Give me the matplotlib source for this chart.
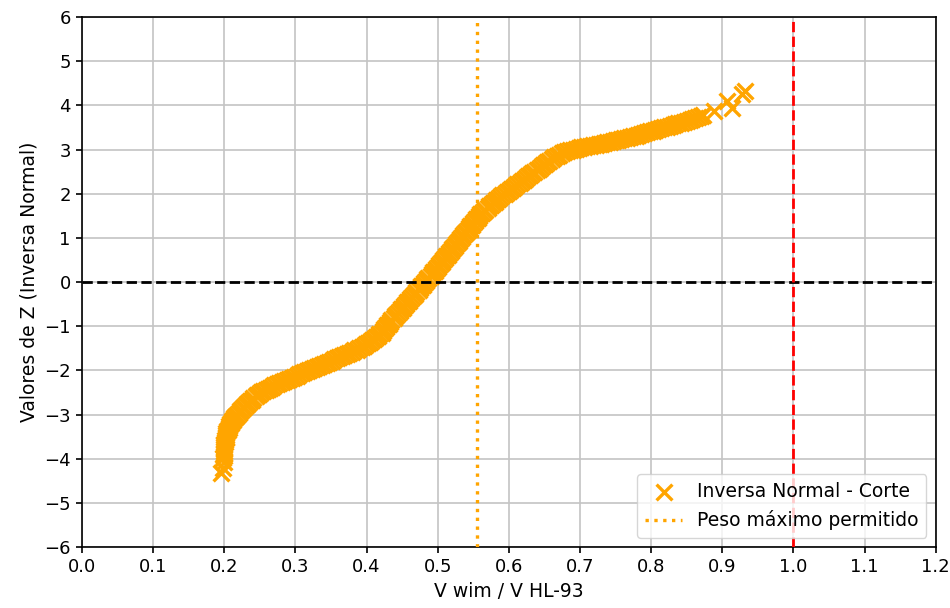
import matplotlib
matplotlib.use('Agg')
import matplotlib.pyplot as plt

# relacion V wim / V HL-93 (eje x) y valor Z de la inversa normal (eje y)
relacion = [
    # cola inferior
    0.196, 0.198, 0.199,
    # tramo casi vertical
    0.198, 0.199, 0.199, 0.199, 0.199, 0.200, 0.200, 0.200, 0.200, 0.201,
    0.201, 0.202, 0.202, 0.203, 0.203, 0.204, 0.205, 0.206, 0.207, 0.208,
    0.209, 0.211, 0.212, 0.214, 0.215, 0.217, 0.218,
    # codo inferior
    0.220, 0.222, 0.224, 0.226, 0.228, 0.230, 0.232, 0.234, 0.236, 0.239,
    0.241, 0.244, 0.246, 0.249, 0.252, 0.255, 0.258, 0.261, 0.264, 0.267,
    0.270, 0.274, 0.277, 0.281, 0.284, 0.288, 0.291, 0.295, 0.298, 0.302,
    0.305, 0.309, 0.312, 0.316, 0.319, 0.323, 0.326, 0.330, 0.333, 0.337,
    0.340, 0.344, 0.347, 0.351, 0.354, 0.358, 0.361, 0.365, 0.368, 0.372,
    0.375, 0.379, 0.382, 0.386, 0.389, 0.393, 0.396, 0.399, 0.402, 0.405,
    0.408, 0.411, 0.413, 0.416, 0.418, 0.421, 0.423,
    # tramo central
    0.425, 0.427, 0.429, 0.431, 0.433, 0.435, 0.438, 0.440, 0.442, 0.444,
    0.447, 0.449, 0.451, 0.453, 0.455, 0.457, 0.459, 0.461, 0.464, 0.466,
    0.468, 0.470, 0.473, 0.475, 0.477, 0.479, 0.481, 0.483, 0.485, 0.487,
    0.490, 0.492, 0.494, 0.496, 0.498, 0.500, 0.502, 0.504, 0.506, 0.508,
    0.510, 0.512, 0.514, 0.516, 0.518, 0.520, 0.522, 0.524, 0.526, 0.528,
    0.530, 0.532, 0.534, 0.536, 0.538, 0.540, 0.542, 0.544, 0.546, 0.548,
    0.550, 0.552, 0.554, 0.556, 0.558,
    # subida superior
    0.560, 0.562, 0.565, 0.567, 0.570, 0.572, 0.575, 0.577, 0.580, 0.582,
    0.585, 0.588, 0.591, 0.594, 0.597, 0.600, 0.603, 0.606, 0.609, 0.612,
    0.615, 0.618, 0.621, 0.624, 0.627, 0.630, 0.633, 0.636, 0.639, 0.642,
    0.645, 0.648, 0.651, 0.654, 0.657, 0.660, 0.663, 0.667, 0.670, 0.674,
    0.678, 0.682, 0.686, 0.690,
    # tramo plano superior
    0.694, 0.698, 0.702, 0.706, 0.710, 0.714, 0.718, 0.722, 0.726, 0.730,
    0.734, 0.738, 0.742, 0.746, 0.750, 0.754, 0.758, 0.762, 0.766, 0.770,
    0.774, 0.778, 0.782, 0.786, 0.790, 0.794, 0.798, 0.802, 0.806, 0.810,
    0.814, 0.818, 0.822, 0.826, 0.830, 0.834, 0.838, 0.842, 0.846, 0.850,
    0.854, 0.858, 0.862, 0.866, 0.870, 0.873,
    # cola superior
    0.889, 0.906, 0.913, 0.927, 0.932,
]
z_valores = [
    -4.32, -4.22, -4.08,
    -3.98, -3.94, -3.90, -3.86, -3.82, -3.78, -3.74, -3.70, -3.66, -3.62,
    -3.58, -3.54, -3.50, -3.46, -3.42, -3.38, -3.34, -3.30, -3.26, -3.22,
    -3.19, -3.15, -3.12, -3.09, -3.06, -3.03, -3.00,
    -2.96, -2.93, -2.89, -2.86, -2.82, -2.79, -2.76, -2.73, -2.69, -2.66,
    -2.62, -2.59, -2.56, -2.53, -2.50, -2.47, -2.44, -2.42, -2.39, -2.37,
    -2.34, -2.32, -2.29, -2.27, -2.24, -2.22, -2.19, -2.17, -2.14, -2.12,
    -2.09, -2.07, -2.04, -2.02, -2.00, -1.98, -1.95, -1.93, -1.90, -1.88,
    -1.85, -1.83, -1.80, -1.78, -1.75, -1.73, -1.70, -1.68, -1.65, -1.63,
    -1.60, -1.58, -1.55, -1.53, -1.50, -1.47, -1.44, -1.41, -1.38, -1.35,
    -1.32, -1.29, -1.25, -1.22, -1.18, -1.15, -1.11,
    -1.06, -1.02, -0.98, -0.94, -0.90, -0.86, -0.82, -0.78, -0.74, -0.70,
    -0.66, -0.62, -0.58, -0.54, -0.50, -0.46, -0.42, -0.38, -0.34, -0.30,
    -0.26, -0.22, -0.18, -0.14, -0.10, -0.06, -0.02, 0.02, 0.06, 0.10,
    0.14, 0.18, 0.22, 0.26, 0.30, 0.34, 0.38, 0.42, 0.46, 0.50,
    0.54, 0.58, 0.62, 0.66, 0.70, 0.74, 0.78, 0.82, 0.86, 0.90,
    0.94, 0.98, 1.02, 1.06, 1.10, 1.14, 1.18, 1.22, 1.26, 1.30,
    1.34, 1.38, 1.42, 1.46, 1.50,
    1.54, 1.57, 1.61, 1.64, 1.68, 1.71, 1.75, 1.78, 1.82, 1.86,
    1.89, 1.93, 1.96, 2.00, 2.04, 2.07, 2.11, 2.14, 2.18, 2.21,
    2.25, 2.28, 2.32, 2.36, 2.39, 2.43, 2.46, 2.50, 2.54, 2.57,
    2.61, 2.64, 2.68, 2.71, 2.75, 2.78, 2.82, 2.85, 2.88, 2.91,
    2.94, 2.96, 2.98, 3.00,
    3.02, 3.03, 3.05, 3.06, 3.07, 3.08, 3.10, 3.11, 3.12, 3.13,
    3.15, 3.16, 3.18, 3.19, 3.21, 3.22, 3.24, 3.25, 3.27, 3.28,
    3.30, 3.31, 3.33, 3.35, 3.37, 3.39, 3.41, 3.43, 3.45, 3.46,
    3.48, 3.50, 3.52, 3.53, 3.55, 3.57, 3.59, 3.61, 3.63, 3.65,
    3.67, 3.69, 3.71, 3.73, 3.76, 3.78,
    3.87, 4.09, 3.94, 4.25, 4.32,
]

peso_maximo = 0.555
limite = 1.0

fig = plt.figure(figsize=(9.5, 6.08), dpi=100)
ax = fig.add_axes([0.0863, 0.1003, 0.8987, 0.8717])

ax.scatter(relacion, z_valores, marker='x', color='orange', s=130, linewidths=2.4,
           label='Inversa Normal - Corte', zorder=3)
ax.axvline(peso_maximo, color='orange', linestyle=':', linewidth=2.4,
           label='Peso máximo permitido', zorder=4)
ax.axhline(0, color='black', linestyle='--', linewidth=2, zorder=4)
ax.axvline(limite, color='red', linestyle='--', linewidth=2, zorder=4)

ax.set_xlim(0, 1.2)
ax.set_ylim(-6, 6)
ax.set_xticks([i / 10 for i in range(13)])
ax.set_yticks(range(-6, 7))
ax.tick_params(labelsize=13, width=1.2, length=4.5)
ax.set_xlabel('V wim / V HL-93', fontsize=13.5)
ax.set_ylabel('Valores de Z (Inversa Normal)', fontsize=13.5)
ax.grid(True, color='#c4c4c4', linewidth=1.2)
ax.set_axisbelow(True)
for sp in ax.spines.values():
    sp.set_linewidth(1.2)
ax.legend(loc='lower right', fontsize=13.5)

fig.savefig('out.png', dpi=100)
